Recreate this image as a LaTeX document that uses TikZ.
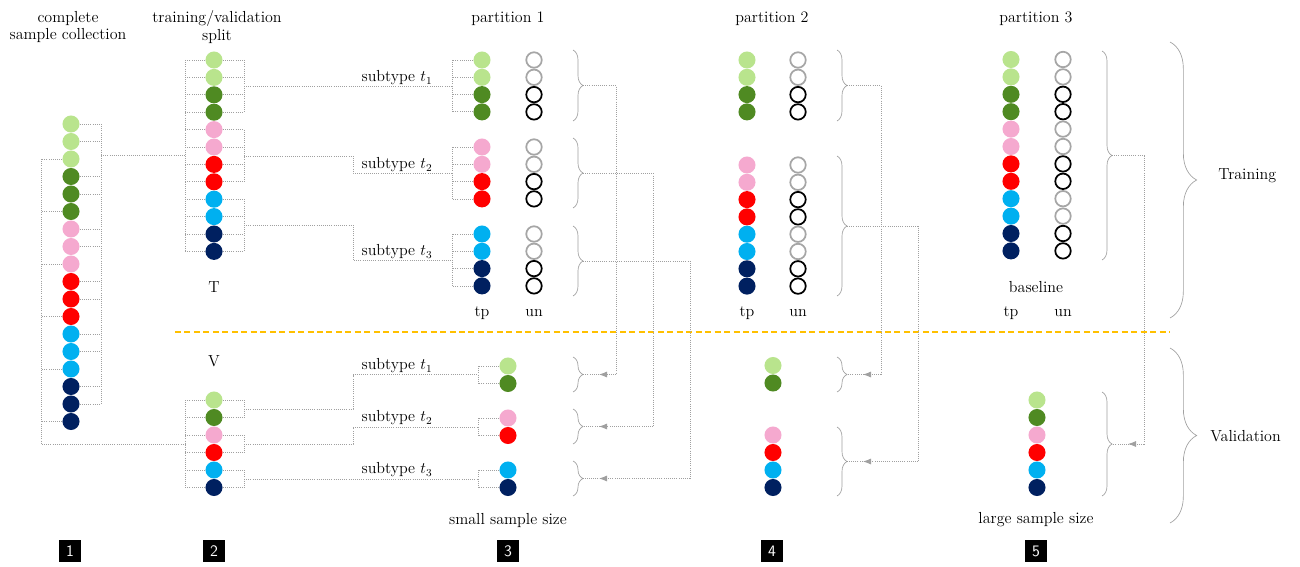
\documentclass[tikz,border=0pt]{standalone}
\usepackage{fontspec}
\usetikzlibrary{decorations.pathreplacing,decorations.markings,arrows.meta}
\definecolor{cA}{HTML}{B9E48D}
\definecolor{cB}{HTML}{4F8A22}
\definecolor{cC}{HTML}{F5A9CF}
\definecolor{cD}{HTML}{FF0000}
\definecolor{cE}{HTML}{00B0F0}
\definecolor{cF}{HTML}{002060}
\definecolor{rg}{HTML}{A6A6A6}
\definecolor{rk}{HTML}{000000}
\definecolor{lineg}{HTML}{A0A0A0}
\definecolor{orangeline}{HTML}{FFC000}
\begin{document}
\begin{tikzpicture}[x=0.75pt,y=-0.75pt,font=\fontsize{12}{13}\selectfont,
  dot/.style={circle,inner sep=0pt,minimum size=12.8pt,fill=#1},
  ring/.style={circle,inner sep=0pt,minimum size=11.6pt,draw=#1,line width=1.3pt},
  conn/.style={draw=lineg,densely dotted,line width=0.6pt},
  brc/.style={draw=lineg,line width=0.5pt,decorate,decoration={brace,amplitude=#1}},
  arr/.style={postaction={decorate},decoration={markings,mark=at position -12pt with {\arrow[lineg]{Latex[length=6pt,width=4.5pt]}}}},
  num/.style={fill=black,text=white,font=\sffamily\fontsize{12}{12}\selectfont,minimum size=17pt,inner sep=0pt},
  lbl/.style={inner sep=0pt,align=center}]
\useasboundingbox (0,0) rectangle (1300,567);

% ---------- titles ----------
\node[lbl] (h1) at (68,27) {complete\\sample collection};
\node[lbl] (h2) at (217,27) {training/validation\\split};
\node[lbl] (h3) at (508,19) {partition 1};
\node[lbl] (h4) at (772,19) {partition 2};
\node[lbl] (h5) at (1036,19) {partition 3};

% ---------- column 1 ----------
\coordinate (sR) at (101,0);
\coordinate (sL) at (41,0);
\foreach \c [count=\i] in {cA,cA,cA,cB,cB,cB,cC,cC,cC,cD,cD,cD,cE,cE,cE,cF,cF,cF}
  \node[dot=\c] (s\i) at (71,{124+17.5*(\i-1)}) {};
\foreach \i in {1,2,4,5,7,8,10,11,13,14,16,17}
  \draw[conn] (s\i.east) -- (s\i -| sR);
\foreach \i in {3,6,9,12,15,18}
  \draw[conn] (s\i.west) -- (s\i -| sL);
\draw[conn] (s1 -| sR) -- (s17 -| sR);

% ---------- column 2 training ----------
\coordinate (tL) at (185,0);
\coordinate (tR) at (244,0);
\foreach \c [count=\i] in {cA,cA,cB,cB,cC,cC,cD,cD,cE,cE,cF,cF}
  \node[dot=\c] (t\i) at (214,{60+17.4*(\i-1)}) {};
\foreach \i in {1,...,12}{
  \draw[conn] (t\i.west) -- (t\i -| tL);
  \draw[conn] (t\i.east) -- (t\i -| tR);
}
\draw[conn] (t1 -| tL) -- (t12 -| tL);
\draw[conn] (t1 -| tR) -- (t4 -| tR);
\draw[conn] (t5 -| tR) -- (t8 -| tR);
\draw[conn] (t9 -| tR) -- (t12 -| tR);
\coordinate (sRm) at (101,155);
\coordinate (tLm) at (185,155);
\draw[conn] (sRm) -- (tLm);
\node[lbl] (T) at (214,287) {T};

% ---------- column 2 validation ----------
\foreach \c [count=\i] in {cA,cB,cC,cD,cE,cF}
  \node[dot=\c] (v\i) at (214,{400+17.5*(\i-1)}) {};
\foreach \i in {1,...,6}{
  \draw[conn] (v\i.west) -- (v\i -| tL);
  \draw[conn] (v\i.east) -- (v\i -| tR);
}
\draw[conn] (v1 -| tL) -- (v6 -| tL);
\draw[conn] (v1 -| tR) -- (v2 -| tR);
\draw[conn] (v3 -| tR) -- (v4 -| tR);
\draw[conn] (v5 -| tR) -- (v6 -| tR);
\coordinate (vIn) at (185,444);
\draw[conn] (s3 -| sL) |- (vIn);
\node[lbl] (V) at (214,361) {V};

% ---------- partition 1 training ----------
\coordinate (pL) at (452,0);
\foreach \c [count=\i] in {cA,cA,cB,cB,cC,cC,cD,cD,cE,cE,cF,cF}{
  \pgfmathsetmacro\yy{60+87*floor((\i-1)/4)+17.3*mod(\i-1,4)}
  \node[dot=\c] (pt\i) at (482,\yy) {};
  \draw[conn] (pt\i.west) -- (pt\i -| pL);
}
\coordinate (ux1) at (534,0);
\foreach \c [count=\i] in {rg,rg,rk,rk,rg,rg,rk,rk,rg,rg,rk,rk}
  \node[ring=\c] (pu\i) at (ux1 |- pt\i) {};
\draw[conn] (pt1 -| pL) -- (pt4 -| pL);
\draw[conn] (pt5 -| pL) -- (pt8 -| pL);
\draw[conn] (pt9 -| pL) -- (pt12 -| pL);

\coordinate (j1) at (244,86);
\coordinate (j1e) at (452,86);
\draw[conn] (j1) -- (j1e);
\coordinate (j2) at (244,156);
\coordinate (j2m) at (353,156);
\coordinate (j2e) at (452,173);
\draw[conn] (j2) -- (j2m) |- (j2e);
\coordinate (j3) at (244,225);
\coordinate (j3m) at (353,225);
\coordinate (j3e) at (452,260);
\draw[conn] (j3) -- (j3m) |- (j3e);
\node[lbl] (st1) at (397,78) {subtype $t_1$};
\node[lbl] (st2) at (397,165) {subtype $t_2$};
\node[lbl] (st3) at (397,252) {subtype $t_3$};
\node[lbl] (tp1) at (482,313) {tp};
\node[lbl] (un1) at (534,313) {un};

% ---------- partition 1 validation ----------
\coordinate (qL) at (478,0);
\foreach \c/\y [count=\i] in {cA/366,cB/383.5,cC/418,cD/435.5,cE/470,cF/487.5}{
  \node[dot=\c] (q\i) at (508,\y) {};
  \draw[conn] (q\i.west) -- (q\i -| qL);
}
\draw[conn] (q1 -| qL) -- (q2 -| qL);
\draw[conn] (q3 -| qL) -- (q4 -| qL);
\draw[conn] (q5 -| qL) -- (q6 -| qL);
\coordinate (k1) at (244,409);
\coordinate (k1m) at (353,409);
\coordinate (k1e) at (478,374.5);
\draw[conn] (k1) -- (k1m) |- (k1e);
\coordinate (k2) at (244,444);
\coordinate (k2m) at (353,444);
\coordinate (k2e) at (478,427);
\draw[conn] (k2) -- (k2m) |- (k2e);
\coordinate (k3) at (244,479);
\coordinate (k3e) at (478,479);
\draw[conn] (k3) -- (k3e);
\node[lbl] (vt1) at (397,366) {subtype $t_1$};
\node[lbl] (vt2) at (397,418) {subtype $t_2$};
\node[lbl] (vt3) at (397,470) {subtype $t_3$};
\node[lbl] (sss) at (508,520) {small sample size};

% ---------- partition 2 ----------
\foreach \c/\y [count=\i] in {cA/60,cA/77.3,cB/94.6,cB/111.9,cC/165,cC/182.3,cD/199.6,cD/216.9,cE/234.2,cE/251.5,cF/268.8,cF/286.1}{
  \node[dot=\c] (r\i) at (747,\y) {};
}
\coordinate (ux2) at (798,0);
\foreach \c [count=\i] in {rg,rg,rk,rk,rg,rg,rk,rk,rg,rg,rk,rk}
  \node[ring=\c] (ru\i) at (ux2 |- r\i) {};
\node[lbl] (tp2) at (747,313) {tp};
\node[lbl] (un2) at (798,313) {un};
\foreach \c/\y [count=\i] in {cA/365.5,cB/383,cC/435,cD/452.5,cE/470,cF/487.5}
  \node[dot=\c] (w\i) at (773,\y) {};

% ---------- partition 3 ----------
\foreach \c [count=\i] in {cA,cA,cB,cB,cC,cC,cD,cD,cE,cE,cF,cF}
  \node[dot=\c] (m\i) at (1011,{59.5+17.4*(\i-1)}) {};
\coordinate (ux3) at (1063,0);
\foreach \c [count=\i] in {rg,rg,rk,rk,rg,rg,rk,rk,rg,rg,rk,rk}
  \node[ring=\c] (mu\i) at (ux3 |- m\i) {};
\node[lbl] (bl) at (1036,287) {baseline};
\node[lbl] (tp3) at (1011,313) {tp};
\node[lbl] (un3) at (1063,313) {un};
\foreach \c [count=\i] in {cA,cB,cC,cD,cE,cF}
  \node[dot=\c] (x\i) at (1037,{400+17.5*(\i-1)}) {};
\node[lbl] (lss) at (1036,520) {large sample size};

% ---------- separator ----------
\draw[orangeline,line width=2.2pt,dash pattern=on 4.5pt off 2.6pt] (175,332) -- (1170,332);

% ---------- braces and feedback ----------
\draw[brc=7.5pt] (573,50) -- (573,121);
\draw[brc=7.5pt] (573,138) -- (573,208);
\draw[brc=7.5pt] (573,226) -- (573,296);
\draw[brc=7.5pt] (573,357) -- (573,392);
\draw[brc=7.5pt] (573,409) -- (573,444);
\draw[brc=7.5pt] (573,461) -- (573,496);
\draw[brc=7.5pt] (837,50) -- (837,121);
\draw[brc=7.5pt] (837,156) -- (837,296);
\draw[brc=7.5pt] (837,357) -- (837,392);
\draw[brc=7.5pt] (837,427) -- (837,496);
\draw[brc=7.5pt] (1102,51) -- (1102,260);
\draw[brc=7.5pt] (1102,392) -- (1102,496);
\draw[brc=20pt] (1170,42) -- (1170,318);
\draw[brc=20pt] (1170,348) -- (1170,523);
\node[lbl,anchor=west] (trn) at (1218,176) {Training};
\node[lbl,anchor=west] (val) at (1210,436) {Validation};

\coordinate (a1) at (583,85.5);   \coordinate (a1c) at (616,374.5); \coordinate (a1e) at (583,374.5);
\coordinate (a2) at (583,173);    \coordinate (a2c) at (653,426.5); \coordinate (a2e) at (583,426.5);
\coordinate (a3) at (583,261);    \coordinate (a3c) at (690,478.5); \coordinate (a3e) at (583,478.5);
\coordinate (a4) at (847,85.5);   \coordinate (a4c) at (881,374.5); \coordinate (a4e) at (847,374.5);
\coordinate (a5) at (847,226);    \coordinate (a5c) at (918,461.5); \coordinate (a5e) at (847,461.5);
\coordinate (a6) at (1112,155.5); \coordinate (a6c) at (1144,444);  \coordinate (a6e) at (1112,444);
\foreach \i in {1,...,6}{
  \draw[conn] (a\i) -| (a\i c);
  \draw[conn,arr] (a\i c) -- (a\i e);
}

% ---------- step numbers ----------
\node[num] (n1) at (70,551) {1};
\node[num] (n2) at (214,551) {2};
\node[num] (n3) at (508,551) {3};
\node[num] (n4) at (772,551) {4};
\node[num] (n5) at (1036,551) {5};
\end{tikzpicture}
\end{document}
